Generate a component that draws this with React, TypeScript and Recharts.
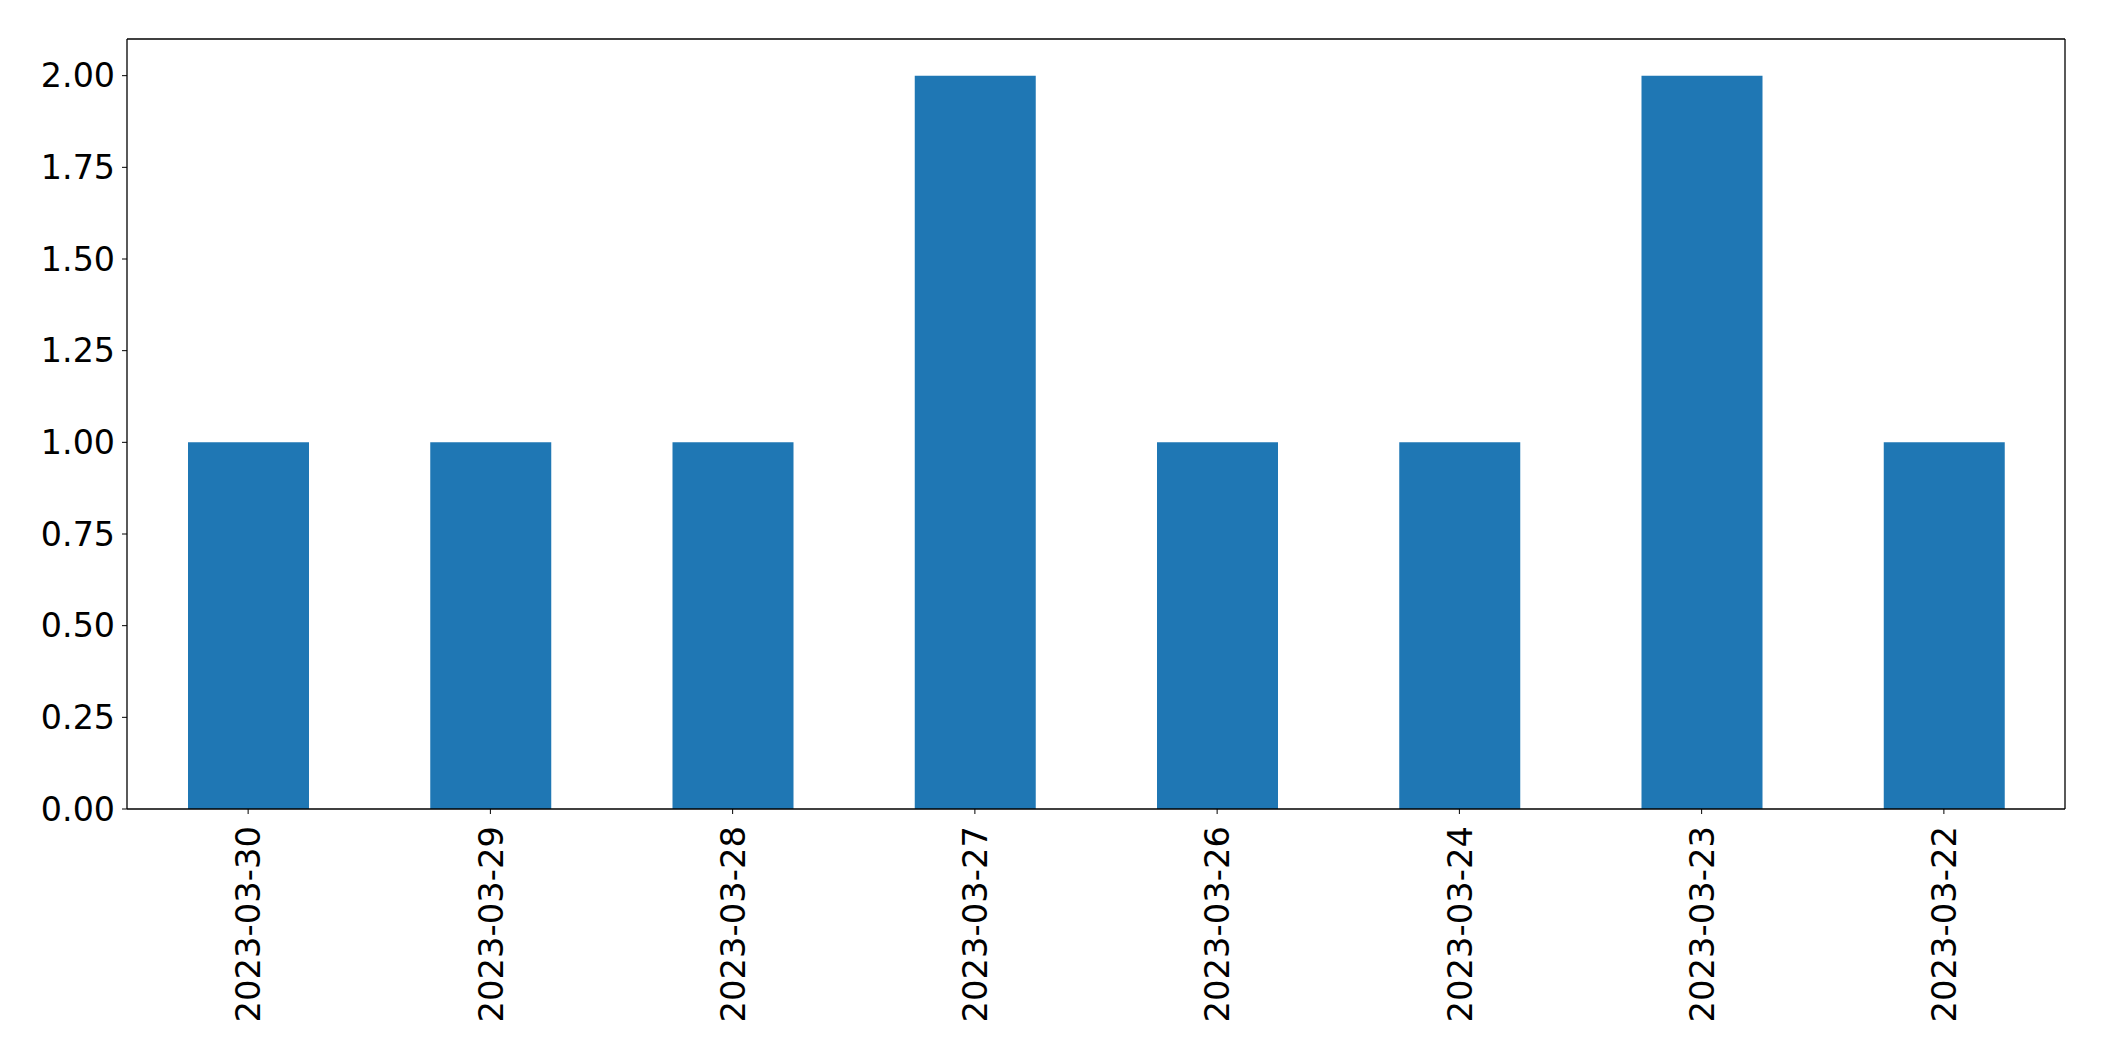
import { Bar, BarChart, XAxis, YAxis } from 'recharts';

const dates = [
  '2023-03-30',
  '2023-03-29',
  '2023-03-28',
  '2023-03-27',
  '2023-03-26',
  '2023-03-24',
  '2023-03-23',
  '2023-03-22',
];
const counts = [1, 1, 1, 2, 1, 1, 2, 1];
const yTicks = [0, 0.25, 0.5, 0.75, 1.0, 1.25, 1.5, 1.75, 2.0];

const data = dates.map((date, i) => ({ date, count: counts[i] }));

const font = "'DejaVu Sans', sans-serif";

function DateTick(props: any) {
  const { x, y, payload } = props;
  return (
    <g transform={`translate(${x},${y})`}>
      <text
        transform="rotate(-90)"
        textAnchor="end"
        dy="0.36em"
        fontSize={33.8}
        fontFamily={font}
        fill="#000"
      >
        {payload.value}
      </text>
    </g>
  );
}

export default function App() {
  return (
    <div style={{ position: 'absolute', left: 0, top: 0, background: '#fff' }}>
      <BarChart
        width={2104}
        height={1061}
        data={data}
        margin={{ top: 38, right: 38, left: 0, bottom: 0 }}
        barSize={121}
      >
        <XAxis
          dataKey="date"
          height={252}
          interval={0}
          tickSize={5}
          tickMargin={12}
          stroke="#000"
          tickLine={{ stroke: '#000' }}
          axisLine={{ stroke: '#000', strokeWidth: 1.3 }}
          tick={<DateTick />}
        />
        <XAxis
          xAxisId="top"
          orientation="top"
          dataKey="date"
          height={1}
          tick={false}
          tickLine={false}
          axisLine={{ stroke: '#000', strokeWidth: 1.3 }}
        />
        <YAxis
          domain={[0, 2.1]}
          ticks={yTicks}
          width={127}
          tickSize={5}
          tickMargin={7}
          interval={0}
          tickFormatter={(v: number) => v.toFixed(2)}
          tick={{ fill: '#000', fontSize: 33.3, fontFamily: font }}
          tickLine={{ stroke: '#000' }}
          axisLine={{ stroke: '#000', strokeWidth: 1.3 }}
        />
        <YAxis
          yAxisId="right"
          orientation="right"
          width={1}
          domain={[0, 2.1]}
          tick={false}
          tickLine={false}
          axisLine={{ stroke: '#000', strokeWidth: 1.3 }}
        />
        <Bar dataKey="count" fill="#1f77b4" isAnimationActive={false} />
      </BarChart>
    </div>
  );
}
